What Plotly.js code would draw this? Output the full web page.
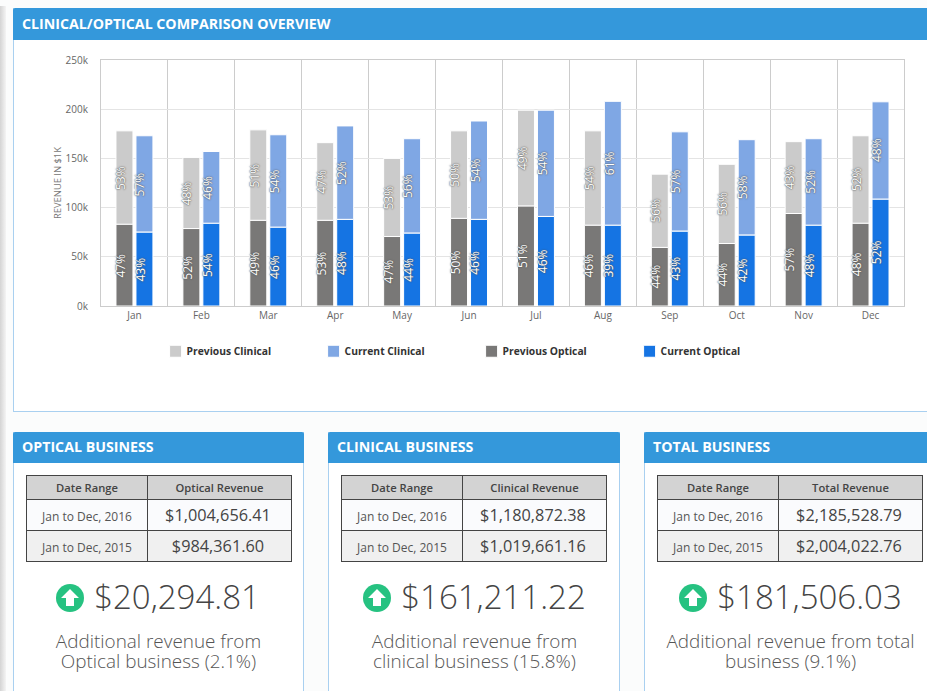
<!DOCTYPE html>
<html><head><meta charset="utf-8">
<script src="https://cdn.plot.ly/plotly-3.0.1.min.js"></script>
<style>
html,body{margin:0;padding:0;width:927px;height:691px;overflow:hidden;background:#fbfcfc;font-family:"Open Sans",sans-serif;color:#444}
#strip{position:absolute;left:0;top:6px;width:6px;height:685px;background:linear-gradient(to right,#d4d4d4,#f4f4f4)}
.card{position:absolute;background:#fff;border:1px solid #a9d0f0;border-top:none;box-sizing:border-box}
.hd{background:#3498db;color:#fff;font-weight:700;font-size:14.2px;box-sizing:border-box;padding-left:9px;margin-left:-1px;margin-right:-1px;border-radius:2px 2px 0 0}
#main{left:13px;top:8px;width:930px;height:404px}
#main .hd{height:32px;line-height:32px}
#chart{position:absolute;left:0;top:32px;width:913px;height:370px}
.biz{top:432px;height:280px}
.biz .hd{height:31px;line-height:30px}
table{position:absolute;left:12px;top:43px;width:266px;height:87px;border-collapse:collapse;table-layout:fixed;text-align:center}
th,td{border:1px solid #444;padding:0}
th{background:#d3d3d3;font-size:11.2px;font-weight:600;color:#444;height:23px}
td.d{font-size:12px;color:#555;padding-top:2px}
td.v{font-size:16.3px;color:#444;padding-right:3px}
tr.a td{background:#fafbfd}tr.b td{background:#f0f0f0}
th:first-child,td:first-child{width:120px}
.gain{position:absolute;left:0;top:143px;text-align:center;font-size:33px;font-weight:300;color:#444;line-height:44px;white-space:nowrap}
.gain svg{vertical-align:-3px;margin-right:10px}
.note{position:absolute;left:0;top:199px;text-align:center;font-size:18.9px;font-weight:300;line-height:20px;color:#555}
</style></head><body>
<div id="strip"></div>
<div class="card" id="main"><div class="hd">CLINICAL/OPTICAL COMPARISON OVERVIEW</div><div id="chart"></div></div>
<div id="cards"></div>
<script>
const months = ['Jan','Feb','Mar','Apr','May','Jun','Jul','Aug','Sep','Oct','Nov','Dec'];
const prevClinical = [95,72.3,92,79,79.4,89,97.5,96,74.5,80.5,73,89];
const curClinical = [98,73,94,95,96,100,108,126,101,97,88,99];
const prevOptical = [83,78.7,87,87,70.6,89,101.5,82,59.5,63.5,94,84];
const curOptical = [75,84,80,88,74,88,91,82,76,72,82,108.5];
const prevClinicalPct = [53,48,51,47,53,50,49,54,56,56,43,52];
const curClinicalPct = [57,46,54,52,56,54,54,61,57,58,52,48];
const prevOpticalPct = [47,52,49,53,47,50,51,46,44,44,57,48];
const curOpticalPct = [43,54,46,48,44,46,46,39,43,42,48,52];
const yTickVals = [0,50,100,150,200,250];
const yTickText = ['0k','50k','100k','150k','200k','250k'];
const colors = {pc:'#cbcbcb',cc:'#7fa7e4',po:'#797877',co:'#1574e3'};

const cardTitles = ['OPTICAL BUSINESS','CLINICAL BUSINESS','TOTAL BUSINESS'];
const cardCols = ['Optical Revenue','Clinical Revenue','Total Revenue'];
const rev2016 = ['$1,004,656.41','$1,180,872.38','$2,185,528.79'];
const rev2015 = ['$984,361.60','$1,019,661.16','$2,004,022.76'];
const gains = ['$20,294.81','$161,211.22','$181,506.03'];
const notes = ['Additional revenue from<br>Optical business (2.1%)','Additional revenue from<br>clinical business (15.8%)','Additional revenue from total<br>business (9.1%)'];
const cardLeft = [13,328,644];
const cardWidth = [291,292,300];
const gainWidth = [288,291,291];
const noteWidth = [289,291,291];

const line = {color:'#fff',width:1};
function bar(name,y,base,group,color){
  return {type:'bar',name,x:months,y,base,offsetgroup:group,marker:{color,line},hoverinfo:'x+y+name'};
}
const traces = [
  bar('Previous Clinical',prevClinical,prevOptical,'prev',colors.pc),
  bar('Current Clinical',curClinical,curOptical,'cur',colors.cc),
  bar('Previous Optical',prevOptical,undefined,'prev',colors.po),
  bar('Current Optical',curOptical,undefined,'cur',colors.co)
];
const annotations = [];
function labels(pcts,vals,bases,shift){
  months.forEach((m,i)=>annotations.push({
    x:m,y:(bases?bases[i]:0)+vals[i]/2,xref:'x',yref:'y',text:pcts[i]+'%',showarrow:false,
    textangle:-90,xshift:shift,
    font:{family:'Open Sans',size:12,color:'#fff',shadow:'0 0 2px #555, 0 0 1px #555'}
  }));
}
labels(prevClinicalPct,prevClinical,prevOptical,-14);
labels(curClinicalPct,curClinical,curOptical,6);
labels(prevOpticalPct,prevOptical,null,-14);
labels(curOpticalPct,curOptical,null,6);

const layout = {
  width:913,height:370,margin:{l:86.5,r:22.5,t:20,b:104},
  paper_bgcolor:'#fff',plot_bgcolor:'#fff',
  barmode:'group',bargap:0.403,bargroupgap:0.15,
  font:{family:'Open Sans',size:10,color:'#666'},
  xaxis:{type:'category',tickson:'boundaries',showgrid:true,gridcolor:'#ccc',gridwidth:1,
    ticks:'outside',ticklen:6,tickcolor:'rgba(0,0,0,0)',showline:true,linecolor:'#ccc',mirror:true,
    tickfont:{size:10,color:'#666'}},
  yaxis:{range:[0,250],tickvals:yTickVals,ticktext:yTickText,showgrid:true,gridcolor:'#e4e4e4',gridwidth:1,
    zeroline:false,showline:true,linecolor:'#ccc',mirror:true,
    ticks:'outside',ticklen:10,tickcolor:'rgba(0,0,0,0)',tickfont:{size:10,color:'#666'},
    title:{text:'REVENUE IN $1K',font:{size:9.4,color:'#777'},standoff:2}},
  showlegend:true,
  legend:{orientation:'h',traceorder:'normal',entrywidth:113,entrywidthmode:'pixels',
    x:0.068,xanchor:'left',y:-0.125,yanchor:'top',xref:'paper',
    font:{size:10.3,color:'#333',weight:700},bgcolor:'rgba(0,0,0,0)'},
  annotations
};
const pullLegendText = () => document.querySelectorAll('#chart .legendtext').forEach(t => t.setAttribute('x', 31));
Plotly.newPlot('chart',traces,layout,{displayModeBar:false}).then(gd => {
  pullLegendText();
  gd.on('plotly_afterplot', pullLegendText);
});

const arrow = '<svg width="28" height="28" viewBox="0 0 28 28"><circle cx="14" cy="14" r="14" fill="#26c281"/><path d="M14 5 L23 14 L18 14 L18 22 L10 22 L10 14 L5 14 Z" fill="#fff"/></svg>';
document.getElementById('cards').innerHTML = cardTitles.map((t,i)=>
 `<div class="card biz" style="left:${cardLeft[i]}px;width:${cardWidth[i]}px"><div class="hd">${t}</div>
  <table><tr><th>Date Range</th><th>${cardCols[i]}</th></tr>
  <tr class="a"><td class="d">Jan to Dec, 2016</td><td class="v">${rev2016[i]}</td></tr>
  <tr class="b"><td class="d">Jan to Dec, 2015</td><td class="v">${rev2015[i]}</td></tr></table>
  <div class="gain" style="width:${gainWidth[i]}px">${arrow}${gains[i]}</div>
  <div class="note" style="width:${noteWidth[i]}px">${notes[i]}</div></div>`).join('');
</script>
</body></html>
